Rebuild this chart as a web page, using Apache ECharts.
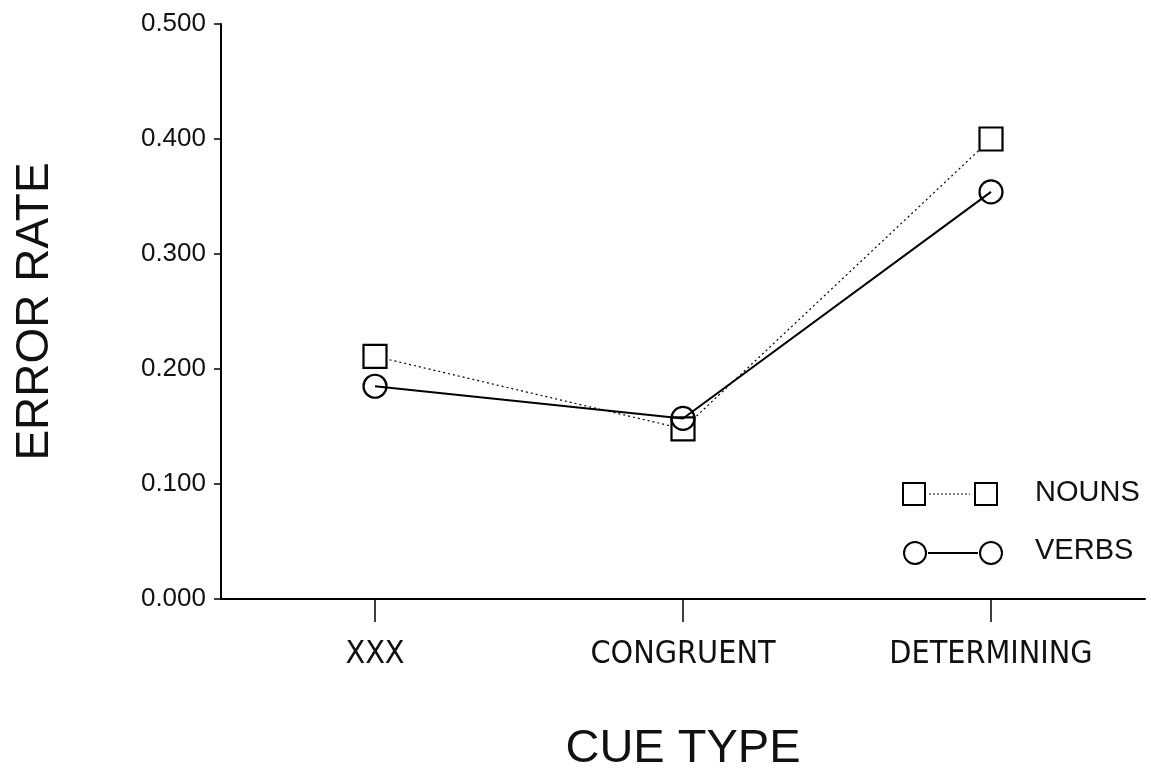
<!DOCTYPE html>
<html>
<head>
<meta charset="utf-8">
<script src="https://cdn.jsdelivr.net/npm/echarts@6/dist/echarts.min.js"></script>
<style>
html,body{margin:0;padding:0;background:#fff;}
#c{width:1151px;height:771px;}
</style>
</head>
<body>
<div id="c"></div>
<script>
const categories = ['XXX', 'CONGRUENT', 'DETERMINING'];
const nouns = [0.211, 0.148, 0.400];
const verbs = [0.185, 0.157, 0.354];
const seriesNames = ['NOUNS', 'VERBS'];

const chart = echarts.init(document.getElementById('c'));
const FONT = 'Liberation Sans';
const NARROW = '"DejaVu Sans Condensed", "Liberation Sans Narrow", "Liberation Sans"';

chart.setOption({
  backgroundColor: '#fff',
  animation: false,
  grid: { left: 221, right: 6, top: 24, bottom: 172, containLabel: false, outerBoundsMode: 'none' },
  xAxis: {
    type: 'category',
    data: categories,
    boundaryGap: true,
    name: 'CUE TYPE',
    nameLocation: 'middle',
    nameGap: 127,
    nameTextStyle: { fontFamily: FONT, fontSize: 47, color: '#111' },
    axisLine: { lineStyle: { color: '#000', width: 2 } },
    axisTick: { show: true, alignWithLabel: true, interval: 0, length: 23, lineStyle: { color: '#000', width: 1.5 } },
    axisLabel: { fontFamily: NARROW, fontSize: 32, color: '#111', margin: 40, interval: 0, hideOverlap: false },
    splitLine: { show: false }
  },
  yAxis: {
    type: 'value',
    min: 0, max: 0.5, interval: 0.1,
    name: 'ERROR RATE',
    nameLocation: 'middle',
    nameGap: 163,
    nameRotate: 90,
    nameTextStyle: { fontFamily: FONT, fontSize: 46, color: '#111' },
    axisLine: { show: true, lineStyle: { color: '#000', width: 2 } },
    axisTick: { show: true, length: 7, lineStyle: { color: '#000', width: 1.5 } },
    axisLabel: { fontFamily: FONT, fontSize: 26, color: '#111', margin: 15,
      formatter: v => v.toFixed(3) },
    splitLine: { show: false }
  },
  series: [
    {
      name: seriesNames[0], type: 'line', data: nouns,
      symbol: 'rect', symbolSize: 23,
      lineStyle: { color: '#000', width: 1.2, type: [2, 3] },
      itemStyle: { color: '#fff', borderColor: '#000', borderWidth: 2.2 },
      z: 2
    },
    {
      name: seriesNames[1], type: 'line', data: verbs,
      symbol: 'circle', symbolSize: 23,
      lineStyle: { color: '#000', width: 2 },
      itemStyle: { color: 'rgba(255,255,255,0)', borderColor: '#000', borderWidth: 2.2 },
      z: 3
    }
  ],
  graphic: [
    { type: 'rect', shape: { x: 903, y: 483, width: 22, height: 22 }, style: { fill: '#fff', stroke: '#000', lineWidth: 2 } },
    { type: 'line', shape: { x1: 929, y1: 494, x2: 970, y2: 494 }, style: { stroke: '#000', lineWidth: 1, lineDash: [2, 2] } },
    { type: 'rect', shape: { x: 975, y: 483, width: 22, height: 22 }, style: { fill: '#fff', stroke: '#000', lineWidth: 2 } },
    { type: 'text', x: 1035, y: 493, style: { text: seriesNames[0], font: '29px "Liberation Sans"', fill: '#111', textVerticalAlign: 'middle', verticalAlign: 'middle' } },
    { type: 'circle', shape: { cx: 915, cy: 553, r: 11 }, style: { fill: '#fff', stroke: '#000', lineWidth: 2 } },
    { type: 'line', shape: { x1: 928, y1: 553, x2: 978, y2: 553 }, style: { stroke: '#000', lineWidth: 2 } },
    { type: 'circle', shape: { cx: 991, cy: 553, r: 11 }, style: { fill: '#fff', stroke: '#000', lineWidth: 2 } },
    { type: 'text', x: 1035, y: 551, style: { text: seriesNames[1], font: '29px "Liberation Sans"', fill: '#111', textVerticalAlign: 'middle', verticalAlign: 'middle' } }
  ]
});
</script>
</body>
</html>
